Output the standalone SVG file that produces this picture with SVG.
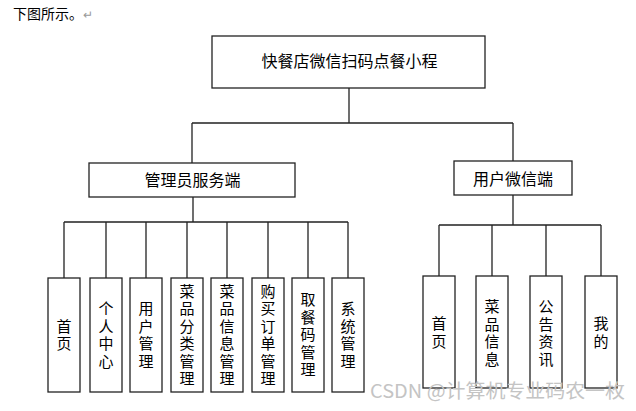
<svg xmlns="http://www.w3.org/2000/svg" width="636" height="411" viewBox="0 0 636 411">
<style>
.box{fill:#fff;stroke:#222;stroke-width:1.3}
.ln{fill:none;stroke:#222;stroke-width:1.3}
.t{font-family:"Noto Sans CJK SC","Noto Sans",sans-serif;font-size:15px;fill:#000;text-anchor:middle;writing-mode:vertical-rl;letter-spacing:2.5px}
.h{font-family:"Noto Sans CJK SC","Noto Sans",sans-serif;font-size:16px;fill:#000;text-anchor:middle}
</style>
<rect width="636" height="411" fill="#fff"/>
<text x="13" y="19" style="font-family:'Noto Sans CJK SC',sans-serif;font-size:14px" fill="#000">下图所示。<tspan fill="#999" font-size="12">↵</tspan></text>
<g id="connectors">
<path class="ln" d="M349 88V123M192 123H513M192 123V163M513 123V161"/>
<path class="ln" d="M193 197V222M64 222H348M64 222V278M106 222V278M146 222V278M187 222V278M227 222V278M268 222V278M308 222V278M348 222V278"/>
<path class="ln" d="M513 195V225M439 225H601M439 225V276M492 225V276M546 225V276M601 225V276"/>
</g>
<g id="root"><rect class="box" x="212" y="36" width="273" height="52"/><text class="h" x="349.5" y="67">快餐店微信扫码点餐小程</text></g>
<g id="admin"><rect class="box" x="89" y="163" width="206" height="34"/><text class="h" x="192.5" y="186">管理员服务端</text></g>
<g id="user"><rect class="box" x="454" y="161" width="118" height="34"/><text class="h" x="513" y="184.5">用户微信端</text></g>
<g id="a1"><rect class="box" x="48" y="278" width="32" height="114"/><text class="t" x="64" y="336">首页</text></g>
<g id="a2"><rect class="box" x="90" y="278" width="32" height="114"/><text class="t" x="106" y="336">个人中心</text></g>
<g id="a3"><rect class="box" x="130" y="278" width="32" height="114"/><text class="t" x="146" y="336">用户管理</text></g>
<g id="a4"><rect class="box" x="171" y="278" width="32" height="114"/><text class="t" x="187" y="336">菜品分类管理</text></g>
<g id="a5"><rect class="box" x="211" y="278" width="32" height="114"/><text class="t" x="227" y="336">菜品信息管理</text></g>
<g id="a6"><rect class="box" x="252" y="278" width="32" height="114"/><text class="t" x="268" y="336">购买订单管理</text></g>
<g id="a7"><rect class="box" x="292" y="278" width="32" height="114"/><text class="t" x="308" y="336">取餐码管理</text></g>
<g id="a8"><rect class="box" x="332" y="278" width="32" height="114"/><text class="t" x="348" y="336">系统管理</text></g>
<g id="u1"><rect class="box" x="423" y="276" width="32" height="112"/><text class="t" x="439" y="333.5">首页</text></g>
<g id="u2"><rect class="box" x="476" y="276" width="32" height="112"/><text class="t" x="492" y="334">菜品信息</text></g>
<g id="u3"><rect class="box" x="530" y="276" width="32" height="112"/><text class="t" x="546" y="334">公告资讯</text></g>
<g id="u4"><rect class="box" x="585" y="276" width="32" height="112"/><text class="t" x="601" y="333.5">我的</text></g>
<text x="370" y="398" textLength="255" lengthAdjust="spacingAndGlyphs" style="font-family:'Noto Sans CJK SC',sans-serif;font-size:19px" fill="#c4c4c4">CSDN @计算机专业码农一枚</text>
</svg>
